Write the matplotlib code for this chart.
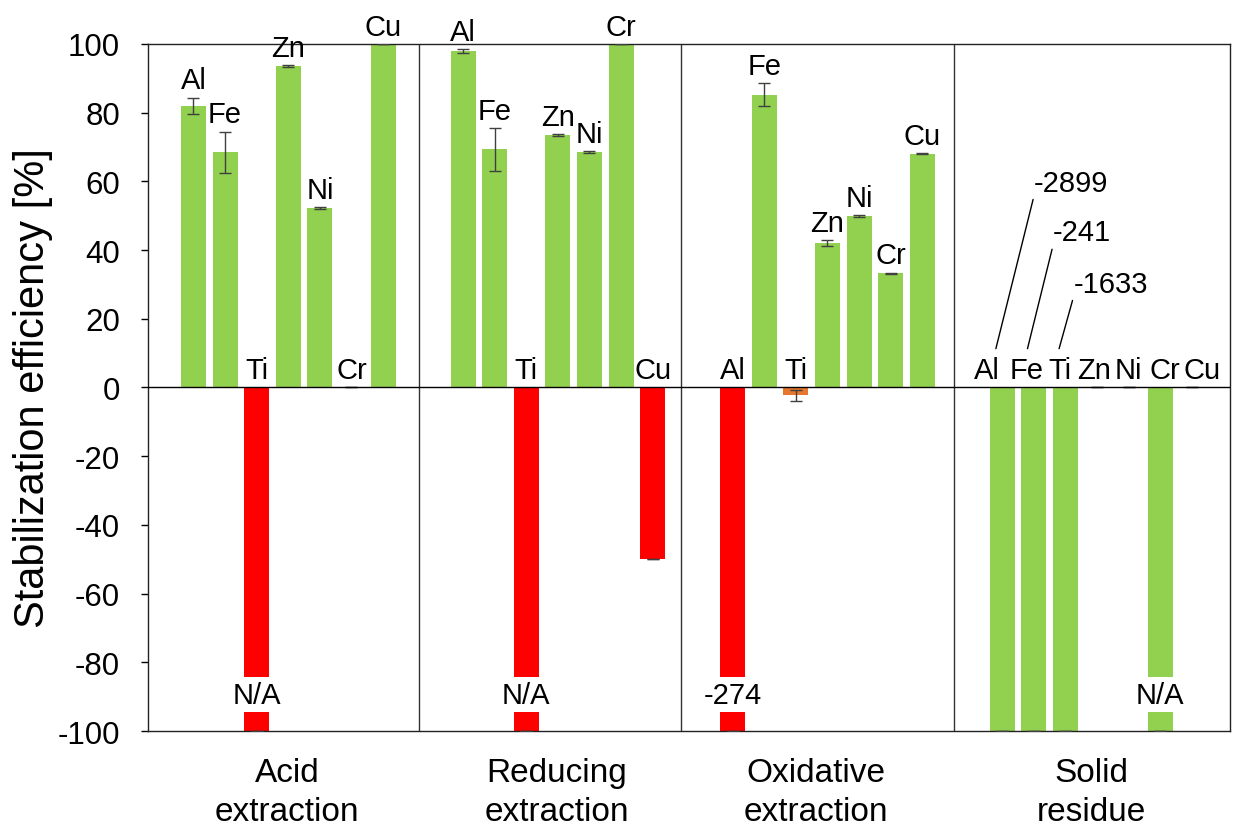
import numpy as np
import matplotlib
matplotlib.use('Agg')
import matplotlib.pyplot as plt

plt.rcParams['font.family'] = ['Liberation Sans', 'DejaVu Sans']
plt.rcParams['axes.unicode_minus'] = False

# elements and process groups
elements = ['Al', 'Fe', 'Ti', 'Zn', 'Ni', 'Cr', 'Cu']
groups = ['Acid\nextraction', 'Reducing\nextraction', 'Oxidative\nextraction', 'Solid\nresidue']

# stabilization efficiency [%] (clipped to -100 where the real value is off scale)
acid = [82, 68.5, -100, 93.6, 52.2, 0, 100]
acid_err = [2.4, 6.0, 0, 0.2, 0.2, 0, 0]
reducing = [98, 69.3, -100, 73.5, 68.6, 100, -50]
reducing_err = [0.5, 6.2, 0, 0.2, 0.2, 0, 0]
oxidative = [-100, 85.2, -2.2, 42, 49.9, 33.2, 68.1]
oxidative_err = [0, 3.3, 1.6, 0.8, 0.2, 0.2, 0.2]
solid = [-100, -100, -100, 0, 0, -100, 0]
solid_err = [0, 0, 0, 0, 0, 0, 0]

values = [acid, reducing, oxidative, solid]
errors = [acid_err, reducing_err, oxidative_err, solid_err]

G, R, O = '#92D050', '#FF0000', '#E8772E'
colors = [[G, G, R, G, G, G, G],
          [G, G, R, G, G, G, R],
          [R, G, O, G, G, G, G],
          [G, G, G, G, G, G, G]]

# off-scale values written on the bar (group, element index, text)
overflow = [(0, 2, 'N/A'), (1, 2, 'N/A'), (2, 0, '-274'), (3, 5, 'N/A')]
# off-scale values with leader line (solid residue)
leader = [(0, '-2899', 1.0, 57.3), (1, '-241', 0.6, 42.8), (2, '-1633', 0.25, 27.9)]
# slight horizontal shift of the crowded solid residue labels
solid_dx = [-0.5, -0.24, -0.18, -0.08, 0.0, 0.14, 0.31]

step = 8.53
width = 0.79
separators = [7.14, 15.43, 24.07]
group_xt = [2.97, 11.5, 19.7, 28.4]

fig = plt.figure(figsize=(12.34, 8.28), dpi=100)
ax = fig.add_axes([0.1199, 0.1159, 0.8769, 0.8298])

for g in range(4):
    x = g * step + np.arange(len(elements))
    ax.bar(x, values[g], width=width, color=colors[g], zorder=2)
    ax.errorbar(x, values[g], yerr=errors[g], fmt='none', ecolor='#404040',
                elinewidth=1, capsize=4.5, capthick=1, zorder=3)
    for i, el in enumerate(elements):
        v, e = values[g][i], errors[g][i]
        y = max(v + e, 0) + 2.7
        dx = solid_dx[i] if g == 3 else 0
        ax.text(x[i] + dx, y, el, ha='center', va='baseline', fontsize=21,
                zorder=5, clip_on=False)

for g, i, txt in overflow:
    ax.text(g * step + i, -89.5, txt, ha='center', va='center', fontsize=21, zorder=6,
            bbox=dict(facecolor='white', edgecolor='none', pad=2.5))

for i, txt, dx, ty in leader:
    xb = 3 * step + i
    ax.annotate(txt, xy=(xb - 0.2, 11.3), xytext=(xb + dx, ty), fontsize=21,
                ha='left', va='baseline', zorder=6,
                arrowprops=dict(arrowstyle='-', color='black', lw=1,
                                relpos=(0, 0), shrinkA=0, shrinkB=0))

ax.axhline(0, color='black', lw=1, zorder=4)
for s in separators:
    ax.axvline(s, color='#333333', lw=1, zorder=1)

ax.set_xlim(-1.44, 32.8)
ax.set_ylim(-100, 100)
ax.set_yticks(np.arange(-100, 101, 20))
ax.tick_params(axis='y', direction='out', length=5, width=1, labelsize=22.5, pad=15)
ax.set_xticks(group_xt, groups)
ax.tick_params(axis='x', length=0, labelsize=24, pad=19)
for lab in ax.get_xticklabels():
    lab.set_linespacing(1.3)
for sp in ax.spines.values():
    sp.set_linewidth(1)
    sp.set_color('#222222')

ax.set_ylabel('Stabilization efficiency [%]', fontsize=30)
ax.yaxis.set_label_coords(-0.088, 0.5)

fig.savefig('out.png', dpi=100)
